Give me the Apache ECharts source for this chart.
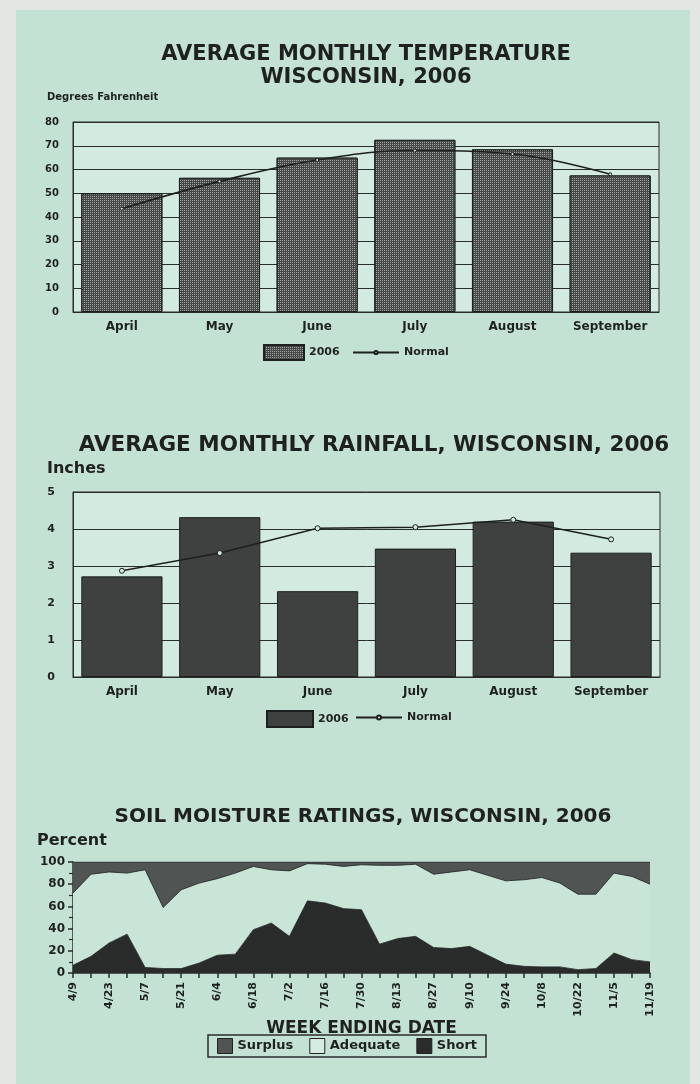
<!DOCTYPE html>
<html>
<head>
<meta charset="utf-8">
<script src="https://cdn.jsdelivr.net/npm/echarts@6/dist/echarts.min.js"></script>
<style>
html,body{margin:0;padding:0;background:#e4e6e4;}
#c{width:700px;height:1084px;}
</style>
</head>
<body>
<div id="c"></div>
<script>
// ---- data ----
const months = ['April', 'May', 'June', 'July', 'August', 'September'];
const temp2006 = [50, 56.5, 65, 72.5, 68.5, 57.5];
const tempNormal = [43.5, 55, 64, 68, 66.5, 58];
const rain2006 = [2.72, 4.32, 2.32, 3.47, 4.2, 3.36];
const rainNormal = [2.87, 3.35, 4.02, 4.05, 4.25, 3.72];
const weeks = ['4/9','4/16','4/23','4/30','5/7','5/14','5/21','5/28','6/4','6/11','6/18','6/25','7/2','7/9','7/16','7/23','7/30','8/6','8/13','8/20','8/27','9/3','9/10','9/17','9/24','10/1','10/8','10/15','10/22','10/29','11/5','11/12','11/19'];
const soilShort = [7, 15, 27, 35, 5, 4, 4, 9, 16, 17, 39, 45, 33, 65, 63, 58, 57, 26, 31, 33, 23, 22, 24, 16, 8, 6, 5.5, 5.5, 3, 4, 18, 12, 10];
const soilAdequate = [65, 74, 64, 55, 88, 55, 71, 72, 69, 73, 57, 48, 59, 33.5, 35, 38, 40.5, 71, 66, 65, 66, 69, 69, 72, 75, 78, 80.5, 75.5, 68, 67, 72, 75, 70];
const soilSurplus = [28, 11, 9, 10, 7, 41, 25, 19, 15, 10, 4, 7, 8, 1.5, 2, 4, 2.5, 3, 3, 2, 11, 9, 7, 12, 17, 16, 14, 19, 29, 29, 10, 13, 20];

const FONT = '"DejaVu Sans", "Liberation Sans", Arial, sans-serif';
const INK = '#1f2120';
const PLOTBG = '#d2eadf';
const displayNames = { t2006: '2006', tNormal: 'Normal', r2006: '2006', rNormal: 'Normal' };

const chart = echarts.init(document.getElementById('c'), null, { renderer: 'canvas' });

const lbl = (size, extra) => Object.assign({ color: INK, fontFamily: FONT, fontWeight: 'bold', fontSize: size }, extra || {});

chart.setOption({
  backgroundColor: '#e4e6e4',
  animation: false,
  graphic: [
    { type: 'rect', z: -100, shape: { x: 16, y: 10, width: 674, height: 1074 }, style: { fill: '#c4e2d4' } },
    { type: 'text', left: 47, top: 92, style: { text: 'Degrees Fahrenheit', font: 'bold 10px ' + FONT, fill: INK } },
    { type: 'text', left: 47, top: 461, style: { text: 'Inches', font: 'bold 16px ' + FONT, fill: INK } },
    { type: 'text', left: 37, top: 833, style: { text: 'Percent', font: 'bold 16px ' + FONT, fill: INK } }
  ],
  title: [
    { text: 'AVERAGE MONTHLY TEMPERATURE\nWISCONSIN, 2006', left: 361, top: 38, textAlign: 'center',
      textStyle: { fontFamily: FONT, fontWeight: 'bold', fontSize: 21, lineHeight: 23, color: INK } },
    { text: 'AVERAGE MONTHLY RAINFALL, WISCONSIN, 2006', left: 369, top: 429, textAlign: 'center',
      textStyle: { fontFamily: FONT, fontWeight: 'bold', fontSize: 21.5, color: INK } },
    { text: 'SOIL MOISTURE RATINGS, WISCONSIN, 2006', left: 358, top: 802, textAlign: 'center',
      textStyle: { fontFamily: FONT, fontWeight: 'bold', fontSize: 20, color: INK } }
  ],
  legend: [
    { left: 258, top: 339, itemWidth: 40, itemHeight: 15, itemGap: 12,
      data: [{ name: 't2006', icon: 'rect' }],
      formatter: n => displayNames[n], textStyle: lbl(11) },
    { left: 347, top: 342, itemWidth: 46, itemHeight: 4, padding: [5, 5, 5, 5],
      data: [{ name: 'tNormal' }],
      formatter: n => displayNames[n], textStyle: lbl(11) },
    { left: 261, top: 705, itemWidth: 46, itemHeight: 16, itemGap: 12,
      data: [{ name: 'r2006', icon: 'rect' }],
      formatter: n => displayNames[n], textStyle: lbl(11) },
    { left: 350, top: 707, itemWidth: 46, itemHeight: 5, padding: [5, 5, 5, 5],
      data: [{ name: 'rNormal' }],
      formatter: n => displayNames[n], textStyle: lbl(11) },
    { left: 208, top: 1035, itemWidth: 15, itemHeight: 15, itemGap: 16,
      borderColor: '#2a2c2b', borderWidth: 1.5, padding: [3, 9, 3, 9],
      data: [{ name: 'Surplus', icon: 'rect' }, { name: 'Adequate', icon: 'rect' }, { name: 'Short', icon: 'rect' }],
      itemStyle: { borderColor: '#222', borderWidth: 1 },
      textStyle: lbl(13) }
  ],
  grid: [
    { left: 73, right: 41, top: 122, height: 190, show: true, backgroundColor: PLOTBG, borderColor: '#2a2c2b', borderWidth: 1 },
    { left: 73, right: 40, top: 492, height: 185, show: true, backgroundColor: PLOTBG, borderColor: '#2a2c2b', borderWidth: 1 },
    { left: 73, right: 50, top: 862, height: 111, show: false }
  ],
  xAxis: [
    { gridIndex: 0, type: 'category', data: months,
      axisLine: { lineStyle: { color: '#2a2c2b' } }, axisTick: { show: false },
      axisLabel: lbl(12, { margin: 9 }) },
    { gridIndex: 1, type: 'category', data: months,
      axisLine: { lineStyle: { color: '#2a2c2b' } }, axisTick: { show: false },
      axisLabel: lbl(12, { margin: 9 }) },
    { gridIndex: 2, type: 'category', data: weeks, boundaryGap: false,
      axisLine: { lineStyle: { color: '#2a2c2b', width: 1.5 } },
      axisTick: { show: true, interval: 0, length: 5, lineStyle: { color: '#2a2c2b', width: 1.5 } },
      axisLabel: lbl(11, { rotate: 90, interval: 1, margin: 9 }),
      name: 'WEEK ENDING DATE', nameLocation: 'middle', nameGap: 46,
      nameTextStyle: lbl(17) }
  ],
  yAxis: [
    { gridIndex: 0, type: 'value', min: 0, max: 80, interval: 10,
      axisLine: { show: true, lineStyle: { color: '#2a2c2b' } }, axisTick: { show: false },
      splitLine: { lineStyle: { color: '#2a2c2b', width: 1 } },
      axisLabel: lbl(10, { margin: 14 }) },
    { gridIndex: 1, type: 'value', min: 0, max: 5, interval: 1,
      axisLine: { show: true, lineStyle: { color: '#2a2c2b' } }, axisTick: { show: false },
      splitLine: { lineStyle: { color: '#2a2c2b', width: 1 } },
      axisLabel: lbl(11, { margin: 18 }) },
    { gridIndex: 2, type: 'value', min: 0, max: 100, interval: 20,
      axisLine: { show: true, lineStyle: { color: '#2a2c2b', width: 1.5 } },
      axisTick: { show: true, length: 5, lineStyle: { color: '#2a2c2b', width: 1.5 } },
      minorTick: { show: true, splitNumber: 2, length: 4, lineStyle: { color: '#2a2c2b', width: 1.2 } },
      splitLine: { show: false },
      axisLabel: lbl(12, { margin: 8 }) }
  ],
  series: [
    { name: 't2006', type: 'bar', xAxisIndex: 0, yAxisIndex: 0, data: temp2006, barCategoryGap: '17%',
      itemStyle: { color: '#454847', borderColor: '#1e201f', borderWidth: 1,
        decal: { symbol: 'rect', symbolSize: 1, dashArrayX: [1, 1], dashArrayY: [1, 1], color: 'rgba(190,196,193,0.75)', rotation: 0 } } },
    { name: 'tNormal', type: 'line', xAxisIndex: 0, yAxisIndex: 0, data: tempNormal, smooth: 0.4, z: 5,
      symbol: 'circle', symbolSize: 3,
      lineStyle: { color: '#1e201f', width: 1.6 }, itemStyle: { color: PLOTBG, borderColor: '#1e201f', borderWidth: 1 } },
    { name: 'r2006', type: 'bar', xAxisIndex: 1, yAxisIndex: 1, data: rain2006, barCategoryGap: '17%',
      itemStyle: { color: '#3e4140', borderColor: '#1e201f', borderWidth: 1 } },
    { name: 'rNormal', type: 'line', xAxisIndex: 1, yAxisIndex: 1, data: rainNormal, z: 5,
      symbol: 'circle', symbolSize: 5,
      lineStyle: { color: '#1e201f', width: 1.5 }, itemStyle: { color: PLOTBG, borderColor: '#1e201f', borderWidth: 1 } },
    { name: 'Short', type: 'line', xAxisIndex: 2, yAxisIndex: 2, stack: 'soil', data: soilShort, symbol: 'none',
      lineStyle: { color: '#1e201f', width: 0.8 }, itemStyle: { color: '#2a2c2b' }, areaStyle: { color: '#2a2c2b', opacity: 1 } },
    { name: 'Adequate', type: 'line', xAxisIndex: 2, yAxisIndex: 2, stack: 'soil', data: soilAdequate, symbol: 'none',
      lineStyle: { color: '#1e201f', width: 0.8 }, itemStyle: { color: '#d6ece2' }, areaStyle: { color: '#c8e5d8', opacity: 1 } },
    { name: 'Surplus', type: 'line', xAxisIndex: 2, yAxisIndex: 2, stack: 'soil', data: soilSurplus, symbol: 'none',
      lineStyle: { color: '#1e201f', width: 0.8 }, itemStyle: { color: '#505453' }, areaStyle: { color: '#505453', opacity: 1 } }
  ]
});
</script>
</body>
</html>
